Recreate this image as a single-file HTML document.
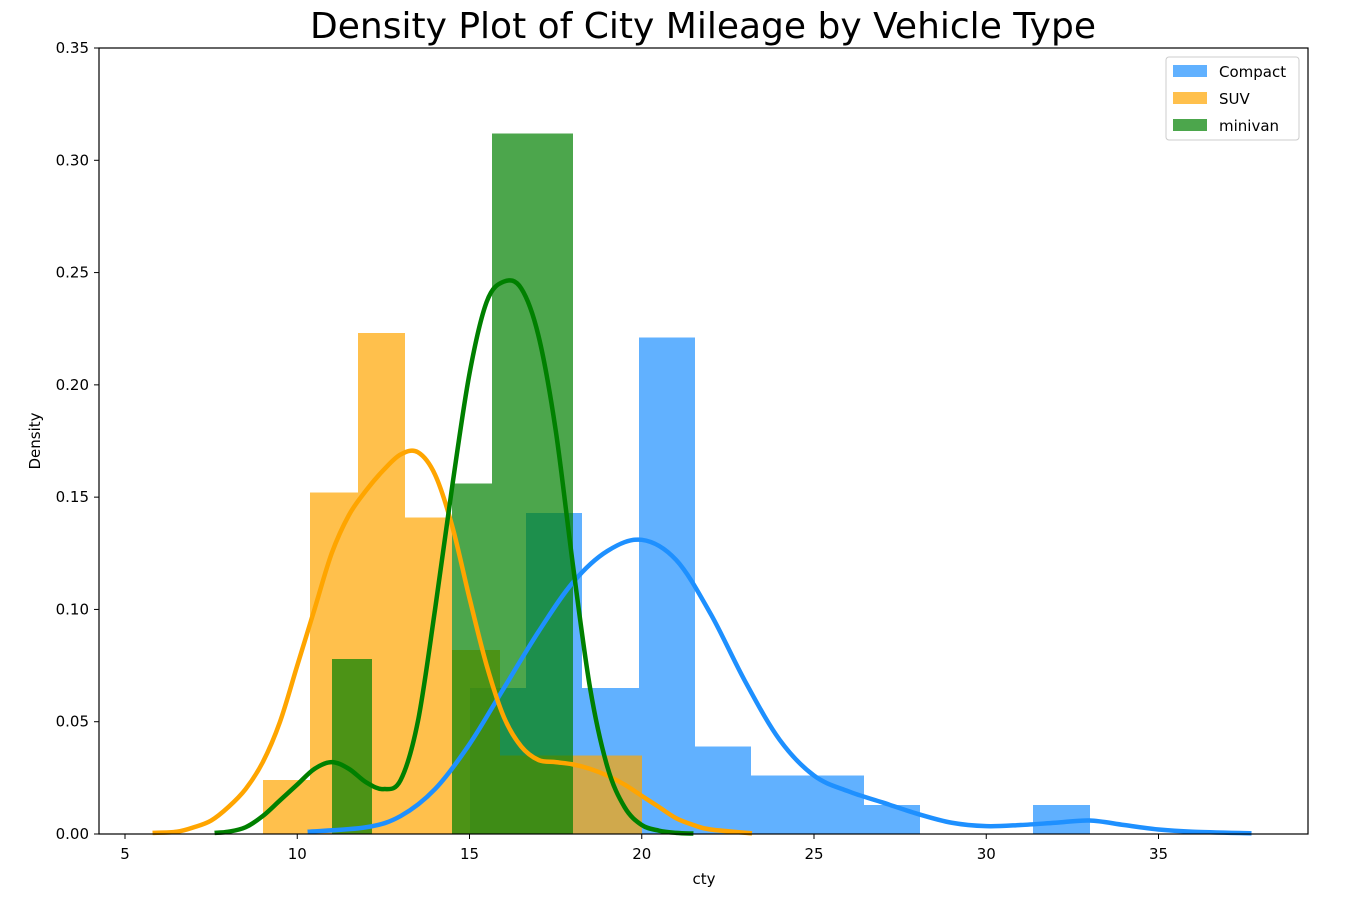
<!DOCTYPE html>
<html><head><meta charset="utf-8"><style>
body{margin:0;background:#fff;}
svg text{font-family:"DejaVu Sans","Liberation Sans",sans-serif;}
</style></head><body>
<svg id="chart" width="1361" height="903">
<text x="703" y="38" font-size="36" text-anchor="middle">Density Plot of City Mileage by Vehicle Type</text>
<g id="hists" shape-rendering="crispEdges"></g>
<g id="lines"></g>
<rect x="99" y="48" width="1209" height="786" fill="none" stroke="#000" stroke-width="1.2"/>
<g id="axes"></g>
<text x="704" y="884" font-size="15" text-anchor="middle">cty</text>
<text x="40" y="441" font-size="15" text-anchor="middle" transform="rotate(-90 40 441)">Density</text>
<g>
<rect x="1166" y="57" width="133" height="83" rx="3" fill="#fff" fill-opacity="0.8" stroke="#ccc"/>
<g><rect x="1173" y="65" width="34" height="12" fill="dodgerblue" fill-opacity="0.7"/><text x="1219" y="77" font-size="15">Compact</text></g>
<g><rect x="1173" y="92" width="34" height="12" fill="orange" fill-opacity="0.7"/><text x="1219" y="104" font-size="15">SUV</text></g>
<g><rect x="1173" y="119" width="34" height="12" fill="green" fill-opacity="0.7"/><text x="1219" y="131" font-size="15">minivan</text></g>
</g>
</svg>
<script>
const xTicks=[5,10,15,20,25,30,35];
const yTicks=[0,0.05,0.10,0.15,0.20,0.25,0.30,0.35];
const compactBinStart=15, compactBinWidth=18/11;
const compactHist=[0.065,0.143,0.065,0.221,0.039,0.026,0.026,0.013,0,0,0.013];
const suvBinStart=9, suvBinWidth=11/8;
const suvHist=[0.024,0.152,0.223,0.141,0.082,0.035,0.035,0.035];
const minivanBinStart=11, minivanBinWidth=7/6;
const minivanHist=[0.078,0,0,0.156,0.312,0.312];
const compactKdeX=[10.3,12,13,14,15,16,17,18,19,20,21,22,23,24,25,26,27,28,29,30,31,32,33,34,35,36,37.7];
const compactKdeY=[0.001,0.003,0.008,0.02,0.04,0.065,0.09,0.112,0.126,0.131,0.122,0.098,0.068,0.042,0.026,0.019,0.014,0.009,0.005,0.0035,0.004,0.005,0.006,0.004,0.002,0.001,0.0003];
const suvKdeX=[5.8,6.5,7,7.5,8,8.5,9,9.5,10,10.5,11,11.5,12,12.5,13,13.5,14,14.5,15,15.5,16,16.5,17,17.5,18,18.5,19,19.5,20,20.5,21,21.5,22,23.2];
const suvKdeY=[0.0005,0.001,0.003,0.006,0.012,0.02,0.032,0.05,0.075,0.1,0.125,0.142,0.153,0.162,0.169,0.17,0.16,0.137,0.105,0.075,0.052,0.039,0.033,0.032,0.031,0.029,0.026,0.022,0.017,0.012,0.007,0.004,0.002,0.0003];
const minivanKdeX=[7.6,8,8.5,9,9.5,10,10.5,11,11.5,12,12.5,13,13.5,14,14.5,15,15.5,16,16.5,17,17.5,18,18.5,19,19.5,20,20.5,21,21.5];
const minivanKdeY=[0.0005,0.001,0.003,0.008,0.015,0.022,0.029,0.032,0.029,0.023,0.02,0.024,0.05,0.1,0.155,0.205,0.237,0.246,0.243,0.222,0.18,0.12,0.065,0.03,0.012,0.004,0.0015,0.0005,0.0002];

const NS="http://www.w3.org/2000/svg";
const X=v=>125+(v-5)*34.45;
const Y=v=>834-v*2245.7;
function mk(tag,attrs,parent){const e=document.createElementNS(NS,tag);for(const k in attrs)e.setAttribute(k,attrs[k]);parent.appendChild(e);return e;}
const hg=document.getElementById('hists'), lg=document.getElementById('lines'), ag=document.getElementById('axes');
function hist(vals,start,w,color,name){
  vals.forEach((v,i)=>{ if(v<=0)return;
    const x0=Math.round(X(start+i*w)), x1=Math.round(X(start+(i+1)*w));
    const r=mk('rect',{x:x0,y:Y(v),width:x1-x0,height:Y(0)-Y(v),fill:color,'fill-opacity':0.7},hg);
    
    
  });
}
hist(compactHist,compactBinStart,compactBinWidth,'dodgerblue','compact');
hist(suvHist,suvBinStart,suvBinWidth,'orange','suv');
hist(minivanHist,minivanBinStart,minivanBinWidth,'green','minivan');
function curve(xs,ys,color,name){
  const p=xs.map((x,i)=>[X(x),Y(ys[i])]);
  let d='M'+p[0][0]+','+p[0][1];
  for(let i=0;i<p.length-1;i++){
    const a=p[Math.max(0,i-1)],b=p[i],c=p[i+1],e=p[Math.min(p.length-1,i+2)];
    const c1=[b[0]+(c[0]-a[0])/6,b[1]+(c[1]-a[1])/6], c2=[c[0]-(e[0]-b[0])/6,c[1]-(e[1]-b[1])/6];
    d+=' C'+c1+' '+c2+' '+c;
  }
  const path=mk('path',{d:d,fill:'none',stroke:color,'stroke-width':4.5,'stroke-linejoin':'round'},lg);
  
  
}
curve(compactKdeX,compactKdeY,'dodgerblue','compact');
curve(suvKdeX,suvKdeY,'orange','suv');
curve(minivanKdeX,minivanKdeY,'green','minivan');
xTicks.forEach(t=>{
  mk('line',{x1:X(t),x2:X(t),y1:834,y2:839,stroke:'#000'},ag);
  const tx=mk('text',{x:X(t),y:859,'font-size':15,'text-anchor':'middle'},ag);
  tx.textContent=t;
  
  
});
yTicks.forEach(t=>{
  mk('line',{x1:94,x2:99,y1:Y(t),y2:Y(t),stroke:'#000'},ag);
  const tx=mk('text',{x:89,y:Y(t)+5,'font-size':15,'text-anchor':'end'},ag);
  tx.textContent=t.toFixed(2);
  
  
});
</script>
</body></html>
